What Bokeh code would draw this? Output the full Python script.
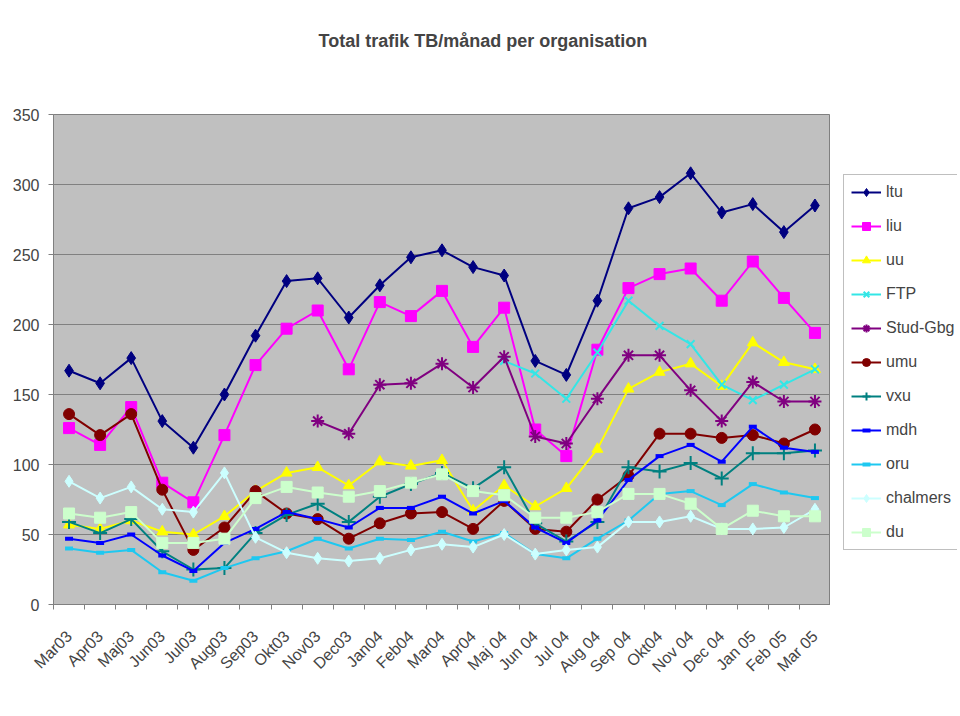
import math
import numpy as np
from bokeh.plotting import figure
from bokeh.layouts import row
from bokeh.models import FixedTicker, Legend, LegendItem, Title
from bokeh.embed import file_html
from bokeh.resources import INLINE

months = ["Mar03", "Apr03", "Maj03", "Jun03", "Jul03", "Aug03", "Sep03", "Okt03",
          "Nov03", "Dec03", "Jan04", "Feb04", "Mar04", "Apr04", "Maj 04", "Jun 04",
          "Jul 04", "Aug 04", "Sep 04", "Okt04", "Nov 04", "Dec 04", "Jan 05",
          "Feb 05", "Mar 05"]

N = None
ltu = [167, 158, 176, 131, 112, 150, 192, 231, 233, 205, 228, 248, 253, 241, 235,
       174, 164, 217, 283, 291, 308, 280, 286, 266, 285]
liu = [126, 114, 141, 87, 73, 121, 171, 197, 210, 168, 216, 206, 224, 184, 212,
       125, 106, 182, 226, 236, 240, 217, 245, 219, 194]
uu = [57, 54, 60, 52, 50, 63, 81, 94, 98, 85, 102, 99, 103, 67, 85,
      70, 83, 111, 154, 166, 172, 156, 187, 173, 168]
ftp = [N, N, N, N, N, N, N, N, N, N, N, N, N, N, 174,
       165, 147, 180, 217, 199, 186, 157, 146, 157, 168]
stud_gbg = [N, N, N, N, N, N, N, N, 131, 122, 157, 158, 172, 155, 177,
            120, 115, 147, 178, 178, 153, 131, 159, 145, 145]
umu = [136, 121, 136, 82, 39, 55, 81, 65, 61, 47, 58, 65, 66, 54, 74,
       54, 52, 75, 92, 122, 122, 119, 121, 115, 125]
vxu = [59, 51, 61, 38, 25, 26, 51, 64, 72, 59, 77, 86, 94, 83, 98,
       58, 45, 59, 98, 95, 101, 90, 108, 108, 110]
mdh = [47, 44, 50, 35, 24, 44, 54, 66, 61, 55, 69, 69, 77, 65, 74,
       55, 44, 60, 89, 106, 114, 102, 127, 112, 109]
oru = [40, 37, 39, 23, 17, 26, 33, 38, 47, 40, 47, 46, 52, 45, 51,
       36, 33, 47, 60, 79, 81, 71, 86, 80, 76]
chalmers = [88, 76, 84, 68, 66, 94, 48, 37, 33, 31, 33, 39, 43, 41, 50,
            36, 39, 41, 59, 59, 63, 54, 54, 55, 68]
du = [65, 62, 66, 44, 44, 47, 76, 84, 80, 77, 81, 87, 93, 81, 78,
      62, 62, 66, 79, 79, 72, 54, 67, 63, 63]

series_names = ["ltu", "liu", "uu", "FTP", "Stud-Gbg", "umu", "vxu", "mdh", "oru", "chalmers", "du"]
series_values = [ltu, liu, uu, ftp, stud_gbg, umu, vxu, mdh, oru, chalmers, du]
y_ticks = [0, 50, 100, 150, 200, 250, 300, 350]

colors = ["#000080", "#FF00FF", "#FFFF00", "#33E6E6", "#800080", "#800000",
          "#008080", "#0000FF", "#1EC8F0", "#CCFFFF", "#CCFFCC"]
markers = ["diamond", "square", "triangle", "x", "asterisk", "circle",
           "cross", "dash", "dash", "diamond", "square"]
msizes = [13, 11, 11, 11, 13, 11, 14, 8, 8, 12, 11]

FONT = "Liberation Sans"


def make_fig(**kw):
    return figure(frame_height=490, output_backend="svg", toolbar_location=None,
                  y_range=(0, 350), min_border_top=114, min_border_bottom=106, **kw)


p = make_fig(frame_width=777, x_range=(-0.5, len(months) - 0.5),
             min_border_left=53, min_border_right=0)
p.background_fill_color = "#C0C0C0"
p.border_fill_color = "white"
p.outline_line_color = "#808080"
p.outline_line_width = 1
p.title = None

# spacer (closest to frame) then the real title above it
p.add_layout(Title(text=" ", text_font_size="42px", text_font=FONT), "above")
p.add_layout(Title(text="Total trafik TB/månad per organisation", align="left",
                   offset=265, text_font=FONT, text_font_size="18px",
                   text_font_style="bold"), "above")


def style(fig, xs, y, c, m, s):
    r1 = fig.line(xs, y, line_color=c, line_width=2)
    if m == "dash":
        r2 = fig.scatter(xs, y, marker=m, size=s, line_color=c, line_width=4, fill_color=c)
    elif m in ("x", "asterisk", "cross"):
        r2 = fig.scatter(xs, y, marker=m, size=s, line_color=c, line_width=2, fill_color=c)
    else:
        r2 = fig.scatter(xs, y, marker=m, size=s, line_color=c, fill_color=c)
    return r1, r2


# legend-only panel: same series, its x range keeps the data out of view
pl = make_fig(frame_width=127, x_range=(1000, 1001), min_border_left=0, min_border_right=0)
pl.axis.visible = False
pl.grid.visible = False
pl.outline_line_color = None
pl.background_fill_color = "white"

xs = np.arange(len(months))
items = []
for name, vals, c, m, s in zip(series_names, series_values, colors, markers, msizes):
    y = np.array([np.nan if v is None else v for v in vals], dtype=float)
    style(p, xs, y, c, m, s)
    r1, r2 = style(pl, xs, y, c, m, s)
    items.append(LegendItem(label=name, renderers=[r1, r2]))

legend = Legend(items=items, location=(13, 54), label_text_font=FONT,
                label_text_font_size="16px", glyph_width=30, glyph_height=20,
                label_height=20, spacing=14, padding=7, margin=0,
                label_standoff=5, border_line_color="#808080",
                background_fill_color="white", background_fill_alpha=1)
pl.add_layout(legend)

# axes
p.xaxis.ticker = FixedTicker(ticks=list(range(len(months))),
                             minor_ticks=[i - 0.5 for i in range(len(months) + 1)])
p.xaxis.major_label_overrides = {i: m for i, m in enumerate(months)}
p.xaxis.major_label_orientation = math.pi / 4
p.xaxis.major_tick_out = 0
p.xaxis.major_tick_in = 0
p.xaxis.minor_tick_out = 5
p.xaxis.minor_tick_in = 0
p.xaxis.minor_tick_line_color = "#808080"
p.xaxis.major_label_text_font = FONT
p.xaxis.major_label_text_font_size = "16px"
p.xaxis.major_label_standoff = 24
p.xaxis.axis_line_color = "#808080"

p.yaxis.ticker = FixedTicker(ticks=y_ticks)
p.yaxis.major_tick_out = 5
p.yaxis.major_tick_in = 0
p.yaxis.minor_tick_line_color = None
p.yaxis.major_tick_line_color = "#808080"
p.yaxis.axis_line_color = "#808080"
p.yaxis.major_label_text_font = FONT
p.yaxis.major_label_text_font_size = "16px"
p.yaxis.major_label_standoff = 9

p.xgrid.grid_line_color = None
p.ygrid.grid_line_color = "#808080"
p.ygrid.grid_line_width = 1

layout = row(p, pl, spacing=0)
open("out.html", "w").write(file_html(layout, INLINE))
